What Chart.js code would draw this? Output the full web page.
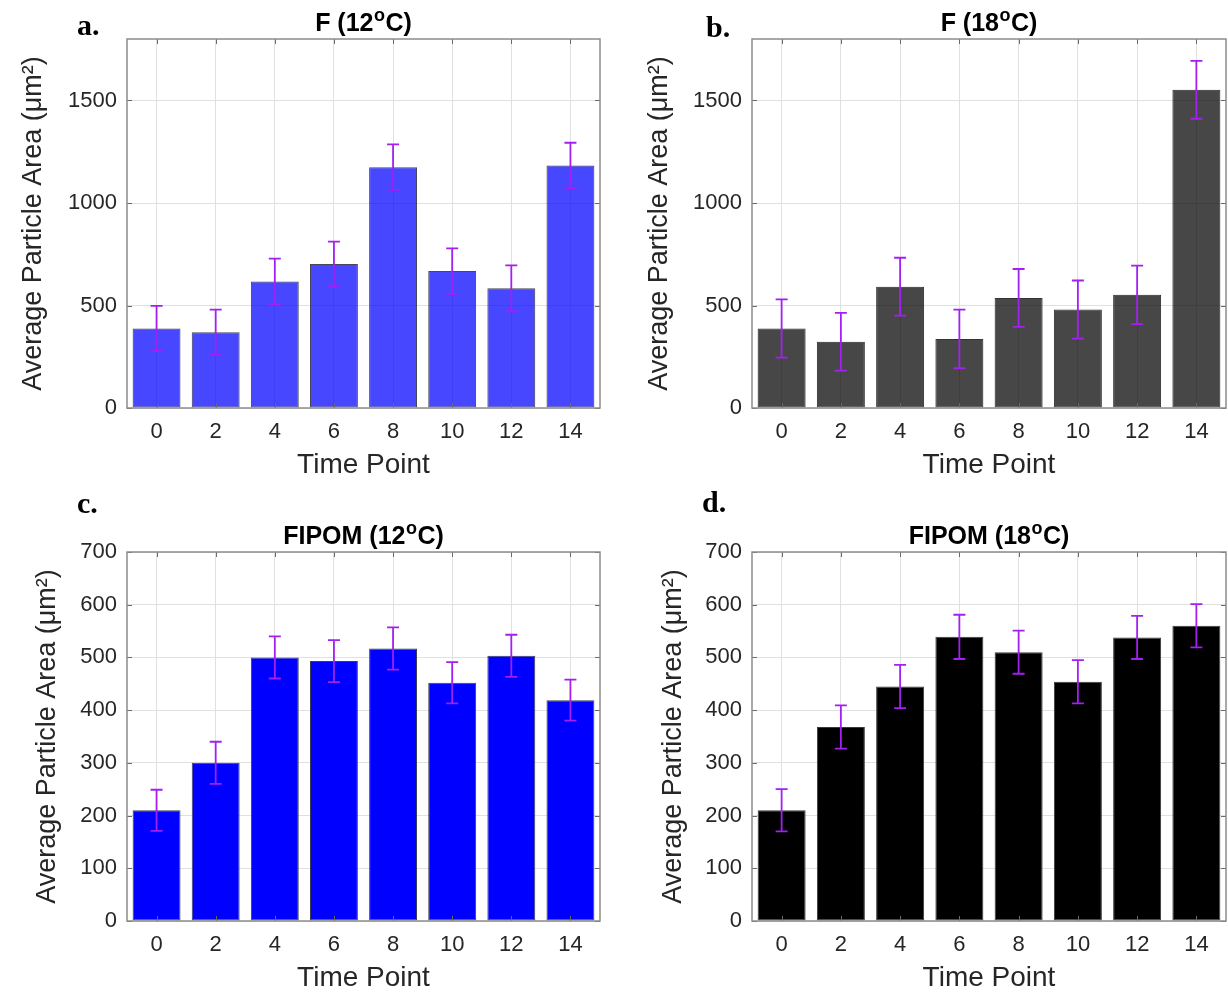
<!DOCTYPE html>
<html>
<head>
<meta charset="utf-8">
<title>Average Particle Area</title>
<script src="https://cdn.jsdelivr.net/npm/chart.js@4.4.1/dist/chart.umd.min.js"></script>
<style>
  html, body { margin: 0; padding: 0; background: #fff; overflow: hidden; }
  #page { position: relative; width: 1228px; height: 992px; overflow: hidden; }
  .panel { position: absolute; }
  .tag { position: absolute; font: bold 30px "Liberation Serif", "Times New Roman", serif; line-height: 30px; color: #000; }
</style>
</head>
<body>
<div id="page">
  <div class="panel" style="left:0;top:0"><canvas id="chartA" width="614" height="490"></canvas></div>
  <div class="panel" style="left:614px;top:0"><canvas id="chartB" width="614" height="490"></canvas></div>
  <div class="panel" style="left:0;top:490px"><canvas id="chartC" width="614" height="513"></canvas></div>
  <div class="panel" style="left:614px;top:490px"><canvas id="chartD" width="614" height="513"></canvas></div>
  <div class="tag" style="left:77px;top:10px">a.</div>
  <div class="tag" style="left:706px;top:12px">b.</div>
  <div class="tag" style="left:77px;top:488px">c.</div>
  <div class="tag" style="left:702px;top:487px">d.</div>
</div>
<script>
// time points (days) shared by all four panels
const timePoints = ['0', '2', '4', '6', '8', '10', '12', '14'];

// F panels
const f12 = [388, 370, 617, 702, 1175, 668, 584, 1183];
const f12Err = [110, 110, 112, 110, 111, 111, 112, 111];
const f18 = [388, 323, 592, 337, 537, 480, 552, 1552];
const f18Err = [142, 141, 141, 143, 141, 142, 143, 141];

// FIPOM panels
const fipom12 = [210, 300, 500, 493, 517, 452, 503, 419];
const fipom12Err = [39, 40, 40, 40, 40, 39, 40, 39];
const fipom18 = [210, 368, 445, 539, 510, 454, 538, 560];
const fipom18Err = [40, 41, 41, 42, 41, 41, 41, 41];

// y axis ticks
const ticksF = [0, 500, 1000, 1500];
const ticksFipom = [0, 100, 200, 300, 400, 500, 600, 700];

const SANS = '"Liberation Sans", Arial, Helvetica, sans-serif';
const TEXT = '#262626';
const GRID = '#e0e0e0';
const ERR = '#a31ff2';
const Y_TITLE = 'Average Particle Area (\u03bcm\u00b2)';

Chart.defaults.font.family = SANS;

// purple error bars on top of each bar
const errorBars = {
    id: 'errorBars',
    afterDatasetsDraw(chart) {
        const ctx = chart.ctx;
        const y = chart.scales.y;
        const ds = chart.data.datasets[0];
        const meta = chart.getDatasetMeta(0);
        ctx.save();
        ctx.strokeStyle = ERR;
        ctx.lineWidth = 1.8;
        meta.data.forEach((bar, i) => {
            const hi = y.getPixelForValue(ds.data[i] + ds.errors[i]);
            const lo = y.getPixelForValue(ds.data[i] - ds.errors[i]);
            ctx.beginPath();
            ctx.moveTo(bar.x, hi); ctx.lineTo(bar.x, lo);
            ctx.moveTo(bar.x - 6, hi); ctx.lineTo(bar.x + 6, hi);
            ctx.moveTo(bar.x - 6, lo); ctx.lineTo(bar.x + 6, lo);
            ctx.stroke();
        });
        ctx.restore();
    }
};

// matlab style box with inward tick marks
const axesBox = {
    id: 'axesBox',
    afterDatasetsDraw(chart) {
        const { ctx, chartArea: a, scales } = chart;
        ctx.save();
        ctx.strokeStyle = '#6a6a6a';
        ctx.lineWidth = 1;
        ctx.beginPath();
        scales.x.ticks.forEach((t, i) => {
            const px = Math.round(scales.x.getPixelForTick(i)) + 0.5;
            ctx.moveTo(px, a.top); ctx.lineTo(px, a.top + 5);
            ctx.moveTo(px, a.bottom); ctx.lineTo(px, a.bottom - 5);
        });
        scales.y.ticks.forEach(t => {
            const py = Math.round(scales.y.getPixelForValue(t.value)) + 0.5;
            ctx.moveTo(a.left, py); ctx.lineTo(a.left + 5, py);
            ctx.moveTo(a.right, py); ctx.lineTo(a.right - 5, py);
        });
        ctx.stroke();
        ctx.strokeStyle = '#8c8c8c';
        ctx.lineWidth = 1.5;
        ctx.strokeRect(a.left, a.top, a.right - a.left, a.bottom - a.top);
        ctx.restore();
    }
};

// bold title with a superscript "o" for the degree sign
const richTitle = {
    id: 'richTitle',
    afterDraw(chart, args, opts) {
        const { ctx, chartArea: a } = chart;
        const parts = opts.text.split('\u00b0');
        const big = 'bold 25px ' + SANS;
        const small = 'bold 18px ' + SANS;
        ctx.save();
        ctx.fillStyle = '#000';
        ctx.textBaseline = 'alphabetic';
        ctx.textAlign = 'left';
        ctx.font = big;
        const w1 = ctx.measureText(parts[0]).width;
        const w3 = ctx.measureText(parts[1]).width;
        ctx.font = small;
        const w2 = ctx.measureText('o').width + 1;
        const x = (a.left + a.right) / 2 - (w1 + w2 + w3) / 2;
        const base = a.top - 8;
        ctx.font = big;
        ctx.fillText(parts[0], x, base);
        ctx.font = small;
        ctx.fillText('o', x + w1 + 0.5, base - 10);
        ctx.font = big;
        ctx.fillText(parts[1], x + w1 + w2, base);
        ctx.restore();
    }
};

function makeChart(id, cfg) {
    const canvas = document.getElementById(id);
    const W = canvas.width, H = canvas.height;
    const xAxisH = 82;
    const labelSize = 27;
    const xLabelSize = 28;
    const tickSize = 22;
    return new Chart(canvas, {
        type: 'bar',
        data: {
            labels: timePoints,
            datasets: [{
                data: cfg.values,
                errors: cfg.errors,
                backgroundColor: cfg.fill,
                borderColor: cfg.edge,
                borderWidth: 1,
                borderSkipped: false,
                barPercentage: 0.81,
                categoryPercentage: 1
            }]
        },
        options: {
            responsive: false,
            animation: false,
            layout: {
                padding: {
                    left: 0,
                    top: cfg.top,
                    right: W - cfg.right,
                    bottom: H - cfg.bottom - xAxisH
                }
            },
            plugins: {
                legend: { display: false },
                tooltip: { enabled: false },
                title: { display: false },
                richTitle: { text: cfg.title }
            },
            scales: {
                x: {
                    grid: { color: GRID, offset: false, drawTicks: false },
                    border: { display: false },
                    ticks: { color: TEXT, font: { size: tickSize }, padding: 11, maxRotation: 0, autoSkip: false },
                    title: {
                        display: true, text: 'Time Point', color: TEXT,
                        font: { size: xLabelSize }, padding: { top: 0, bottom: 25 - xLabelSize * 0.6 }
                    },
                    afterFit: s => { s.height = xAxisH; }
                },
                y: {
                    min: 0,
                    max: cfg.max,
                    afterBuildTicks: s => { s.ticks = cfg.ticks.map(v => ({ value: v })); },
                    grid: { color: GRID, drawTicks: false },
                    border: { display: false },
                    ticks: { color: TEXT, font: { size: tickSize }, padding: 10, callback: v => String(v) },
                    title: {
                        display: true, text: Y_TITLE, color: TEXT,
                        font: { size: labelSize },
                        padding: { top: cfg.titleX - labelSize * 0.6, bottom: 0 }
                    },
                    afterFit: s => { s.width = cfg.left; }
                }
            }
        },
        plugins: [axesBox, errorBars, richTitle]
    });
}

makeChart('chartA', {
    title: 'F (12\u00b0C)', values: f12, errors: f12Err, ticks: ticksF, max: 1800,
    fill: 'rgba(0, 0, 255, 0.72)', edge: 'rgba(40, 40, 60, 0.85)',
    left: 127, right: 600, top: 39, bottom: 408, titleX: 34
});
makeChart('chartB', {
    title: 'F (18\u00b0C)', values: f18, errors: f18Err, ticks: ticksF, max: 1800,
    fill: 'rgba(0, 0, 0, 0.72)', edge: 'rgba(30, 30, 30, 0.9)',
    left: 138, right: 612, top: 39, bottom: 408, titleX: 46
});
makeChart('chartC', {
    title: 'FIPOM (12\u00b0C)', values: fipom12, errors: fipom12Err, ticks: ticksFipom, max: 700,
    fill: '#0000ff', edge: 'rgba(40, 40, 60, 0.9)',
    left: 127, right: 600, top: 62, bottom: 431, titleX: 48
});
makeChart('chartD', {
    title: 'FIPOM (18\u00b0C)', values: fipom18, errors: fipom18Err, ticks: ticksFipom, max: 700,
    fill: '#000000', edge: '#3a3a3a',
    left: 138, right: 612, top: 62, bottom: 431, titleX: 60
});
</script>
</body>
</html>
